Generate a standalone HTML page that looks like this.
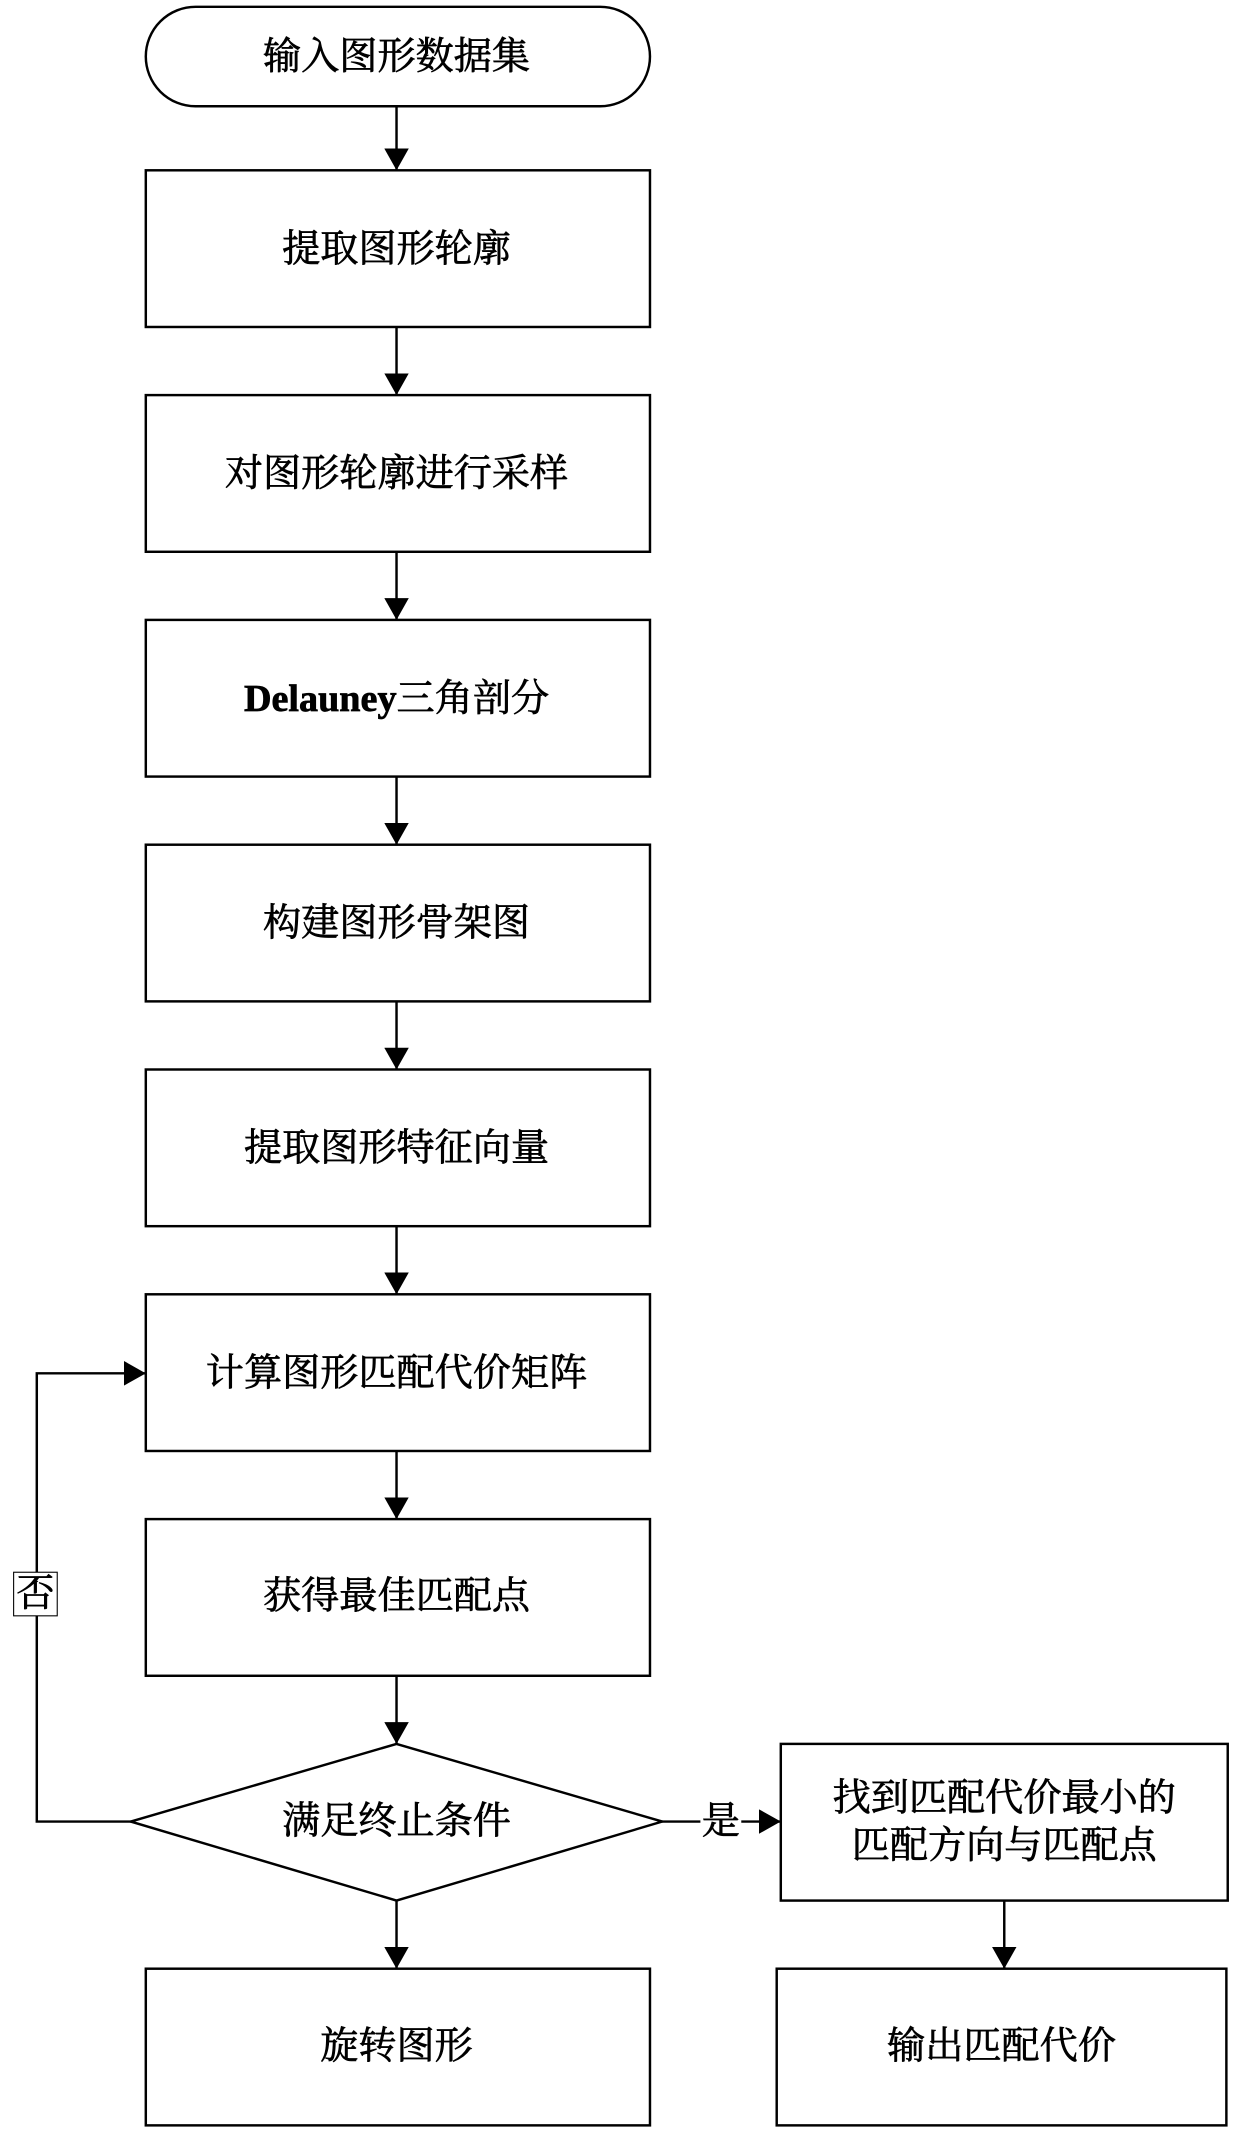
<!DOCTYPE html>
<html><head><meta charset="utf-8"><style>
html,body{margin:0;padding:0;background:#fff}
svg{display:block}
text{font-family:"Liberation Serif","Noto Serif CJK SC",serif;font-size:28px;fill:#000;stroke:#000;stroke-width:0.5;text-anchor:middle;dominant-baseline:central}
</style></head><body>
<svg width="1240" height="2139" viewBox="0 0 910 1570" preserveAspectRatio="none">
<defs><marker id="b" markerWidth="16" markerHeight="18" refX="16" refY="9" orient="auto" markerUnits="userSpaceOnUse"><path d="M0,0 L16,9 L0,18 z" fill="#000"/></marker></defs>
<g fill="none" stroke="#000" stroke-width="1.8">
<rect x="107" y="5" width="370" height="73" rx="36.5"/>
<rect x="107" y="125" width="370" height="115"/>
<rect x="107" y="290" width="370" height="115"/>
<rect x="107" y="455" width="370" height="115"/>
<rect x="107" y="620" width="370" height="115"/>
<rect x="107" y="785" width="370" height="115"/>
<rect x="107" y="950" width="370" height="115"/>
<rect x="107" y="1115" width="370" height="115"/>
<polygon points="291,1280 486,1337 291,1395 96,1337"/>
<rect x="107" y="1445" width="370" height="115"/>
<rect x="573" y="1280" width="328" height="115"/>
<rect x="570" y="1445" width="330" height="115"/>
<g marker-end="url(#b)">
<line x1="291" y1="78" x2="291" y2="125"/>
<line x1="291" y1="240" x2="291" y2="290"/>
<line x1="291" y1="405" x2="291" y2="455"/>
<line x1="291" y1="570" x2="291" y2="620"/>
<line x1="291" y1="735" x2="291" y2="785"/>
<line x1="291" y1="900" x2="291" y2="950"/>
<line x1="291" y1="1065" x2="291" y2="1115"/>
<line x1="291" y1="1230" x2="291" y2="1280"/>
<line x1="291" y1="1395" x2="291" y2="1445"/>
<line x1="737" y1="1395" x2="737" y2="1445"/>
<line x1="486" y1="1337" x2="573" y2="1337"/>
<polyline points="96,1337 27,1337 27,1008 107,1008"/>
</g>
</g>
<rect x="10" y="1154" width="32" height="32" fill="#fff" stroke="#000" stroke-width="0.8"/>
<text x="26" y="1170">否</text>
<rect x="514" y="1322" width="30" height="30" fill="#fff"/>
<text x="529" y="1337">是</text>
<text x="291" y="42">输入图形数据集</text>
<text x="291" y="183">提取图形轮廓</text>
<text x="291" y="348">对图形轮廓进行采样</text>
<text x="291" y="513"><tspan font-weight="bold">Delauney</tspan>三角剖分</text>
<text x="291" y="678">构建图形骨架图</text>
<text x="291" y="843">提取图形特征向量</text>
<text x="291" y="1008">计算图形匹配代价矩阵</text>
<text x="291" y="1172">获得最佳匹配点</text>
<text x="291" y="1337">满足终止条件</text>
<text x="291" y="1502">旋转图形</text>
<text x="737" y="1320">找到匹配代价最小的</text>
<text x="737" y="1355">匹配方向与匹配点</text>
<text x="735" y="1502">输出匹配代价</text>
</svg>
</body></html>
